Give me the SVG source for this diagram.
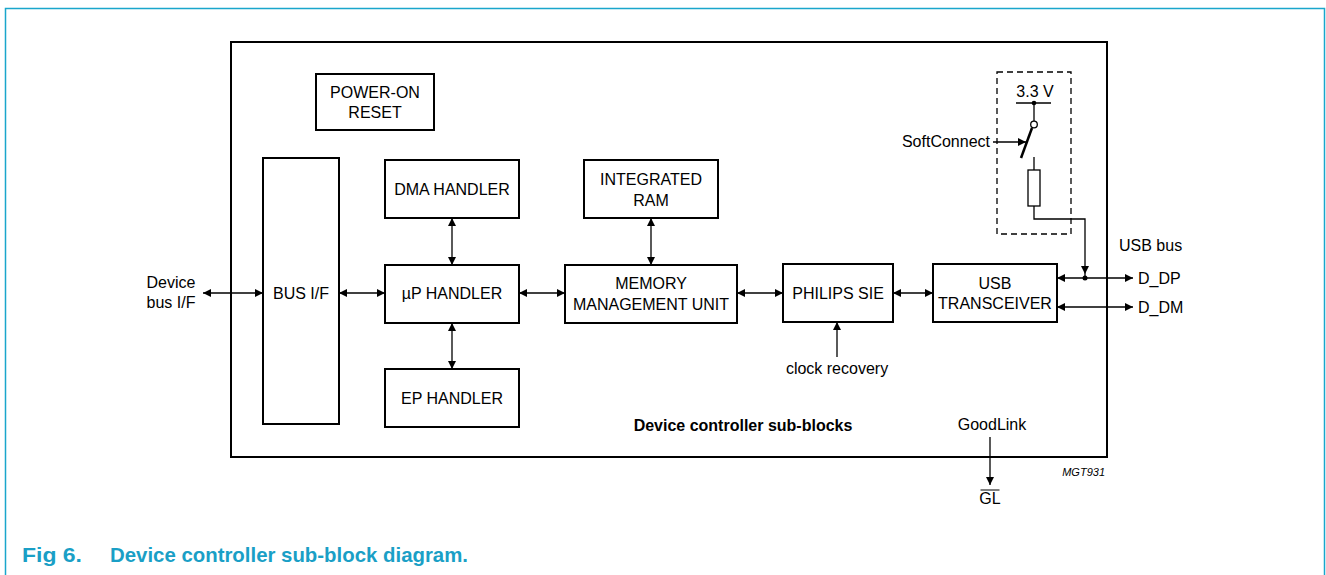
<svg xmlns="http://www.w3.org/2000/svg" width="1326" height="575" viewBox="0 0 1326 575">
<style>
text{font-family:"Liberation Sans",Arial,sans-serif;font-size:16px;fill:#000}
.c{text-anchor:middle}
.box{fill:#fff;stroke:#000;stroke-width:2}
.ln{fill:none;stroke:#000;stroke-width:1.3}
.cap{font-weight:bold;font-size:21px;fill:#1a9fc6}
</style>
<defs>
<marker id="ah" viewBox="0 0 10 10" refX="10" refY="5" markerWidth="9" markerHeight="8" markerUnits="userSpaceOnUse" orient="auto-start-reverse">
<path d="M0,0 L10,5 L0,10 z" fill="#000"/>
</marker>
</defs>
<rect width="1326" height="575" fill="#fff"/>
<path d="M5.5,575 V8.5 H1324.5 V575" fill="none" stroke="#1aa6cc" stroke-width="1.5"/>
<rect id="outer" x="231" y="42" width="876" height="415" fill="none" stroke="#000" stroke-width="2"/>

<g id="power-on-reset"><rect class="box" x="316" y="74" width="118" height="56"/><text class="c" x="375" y="98">POWER-ON</text><text class="c" x="375" y="118">RESET</text></g>
<g id="bus-if"><rect class="box" x="263" y="158" width="76" height="266"/><text class="c" x="301" y="299">BUS I/F</text></g>
<g id="dma-handler"><rect class="box" x="385" y="160" width="134" height="58"/><text class="c" x="452" y="195">DMA HANDLER</text></g>
<g id="up-handler"><rect class="box" x="385" y="265" width="134" height="58"/><text class="c" x="452" y="299">µP HANDLER</text></g>
<g id="ep-handler"><rect class="box" x="385" y="369" width="134" height="58"/><text class="c" x="452" y="404">EP HANDLER</text></g>
<g id="integrated-ram"><rect class="box" x="584" y="160" width="134" height="58"/><text class="c" x="651" y="185">INTEGRATED</text><text class="c" x="651" y="206">RAM</text></g>
<g id="mmu"><rect class="box" x="565" y="265" width="172" height="58"/><text class="c" x="651" y="289">MEMORY</text><text class="c" x="651" y="310">MANAGEMENT UNIT</text></g>
<g id="philips-sie"><rect class="box" x="783" y="264" width="110" height="58"/><text class="c" x="838" y="299">PHILIPS SIE</text></g>
<g id="usb-transceiver"><rect class="box" x="933" y="264" width="124" height="58"/><text class="c" x="995" y="289">USB</text><text class="c" x="995" y="309">TRANSCEIVER</text></g>

<g id="softconnect">
<rect x="997" y="72" width="74" height="162" fill="none" stroke="#000" stroke-width="1.3" stroke-dasharray="6,4"/>
<text class="c" x="1035" y="97">3.3 V</text>
<line class="ln" x1="1016" y1="103" x2="1051" y2="103"/>
<circle cx="1034" cy="103" r="2.3" fill="#000"/>
<line class="ln" x1="1034" y1="103" x2="1034" y2="121"/>
<circle cx="1034" cy="124.5" r="3.3" fill="#fff" stroke="#000" stroke-width="1.3"/>
<line x1="1032" y1="128" x2="1021" y2="158" stroke="#000" stroke-width="2.5"/>
<line class="ln" x1="1034" y1="157" x2="1034" y2="170"/>
<rect x="1028" y="170" width="12" height="36" fill="#fff" stroke="#000" stroke-width="1.3"/>
<text x="990" y="147" text-anchor="end">SoftConnect</text>
</g>

<g id="connectors">
<line class="ln" x1="203" y1="293" x2="263" y2="293" marker-start="url(#ah)" marker-end="url(#ah)"/>
<line class="ln" x1="339" y1="293" x2="385" y2="293" marker-start="url(#ah)" marker-end="url(#ah)"/>
<line class="ln" x1="452" y1="218" x2="452" y2="265" marker-start="url(#ah)" marker-end="url(#ah)"/>
<line class="ln" x1="452" y1="323" x2="452" y2="369" marker-start="url(#ah)" marker-end="url(#ah)"/>
<line class="ln" x1="519" y1="293" x2="565" y2="293" marker-start="url(#ah)" marker-end="url(#ah)"/>
<line class="ln" x1="651" y1="218" x2="651" y2="265" marker-start="url(#ah)" marker-end="url(#ah)"/>
<line class="ln" x1="737" y1="293" x2="783" y2="293" marker-start="url(#ah)" marker-end="url(#ah)"/>
<line class="ln" x1="893" y1="293" x2="933" y2="293" marker-start="url(#ah)" marker-end="url(#ah)"/>
<line class="ln" x1="837" y1="357" x2="837" y2="322" marker-end="url(#ah)"/>
<line class="ln" x1="1057" y1="278" x2="1133" y2="278" marker-start="url(#ah)" marker-end="url(#ah)"/>
<line class="ln" x1="1057" y1="307" x2="1133" y2="307" marker-start="url(#ah)" marker-end="url(#ah)"/>
<path class="ln" d="M1034,206 V219 H1085 V274" marker-end="url(#ah)"/>
<line class="ln" x1="1085" y1="274" x2="1085" y2="278"/>
<circle cx="1085" cy="278" r="2.5" fill="#000"/>
<line class="ln" x1="1026" y1="142" x2="993" y2="142" marker-start="url(#ah)"/>
<line class="ln" x1="990" y1="437" x2="990" y2="485" marker-end="url(#ah)"/>
</g>

<g id="labels">
<text class="c" x="171" y="288">Device</text>
<text class="c" x="171" y="308">bus I/F</text>
<text class="c" x="837" y="374">clock recovery</text>
<text class="c" x="743" y="431" style="font-weight:bold">Device controller sub-blocks</text>
<text class="c" x="992" y="430">GoodLink</text>
<text class="c" x="990" y="504">GL</text>
<line x1="980.5" y1="490" x2="999.5" y2="490" stroke="#000" stroke-width="1"/>
<text x="1105" y="476" text-anchor="end" style="font-style:italic;font-size:11px">MGT931</text>
<text x="1119" y="251">USB bus</text>
<text x="1138" y="284">D_DP</text>
<text x="1138" y="313">D_DM</text>
</g>

<g id="caption">
<text class="cap" x="22" y="562" textLength="60" lengthAdjust="spacingAndGlyphs">Fig 6.</text>
<text class="cap" x="110" y="562" textLength="358" lengthAdjust="spacingAndGlyphs">Device controller sub-block diagram.</text>
</g>
</svg>
